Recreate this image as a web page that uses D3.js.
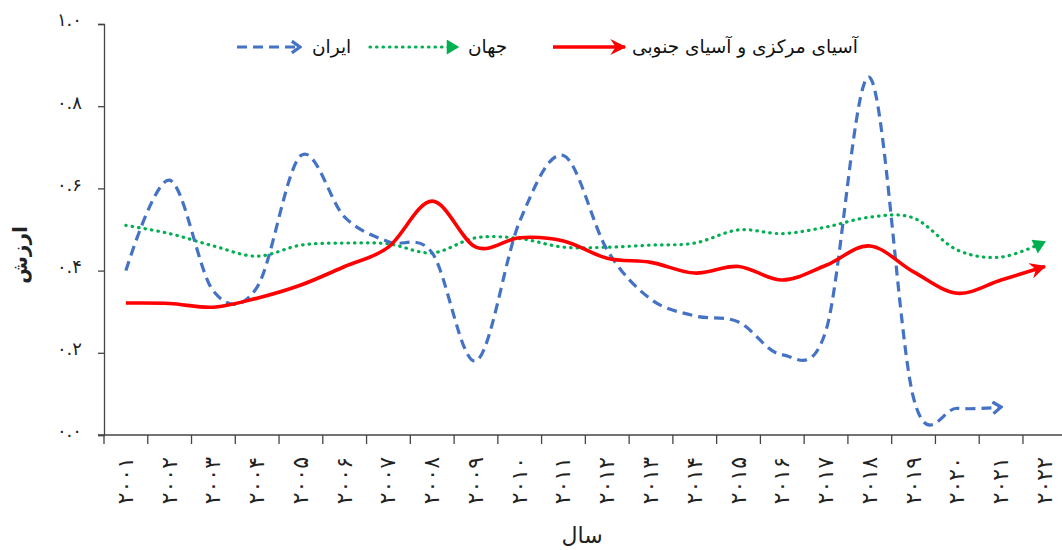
<!DOCTYPE html>
<html>
<head>
<meta charset="utf-8">
<script src="https://cdn.jsdelivr.net/npm/d3@7"></script>
<style>
  body { margin: 0; background: #fff; }
  text { font-family: "DejaVu Sans", "Noto Sans", sans-serif; }
</style>
</head>
<body>
<svg id="graphic-svg" width="1062" height="550"></svg>
<script>
// Data
var years = ["2001","2002","2003","2004","2005","2006","2007","2008","2009","2010","2011",
             "2012","2013","2014","2015","2016","2017","2018","2019","2020","2021","2022"];
var iran  = [0.40, 0.62, 0.35, 0.36, 0.68, 0.53, 0.47, 0.443, 0.18, 0.52, 0.68,
             0.45, 0.33, 0.29, 0.275, 0.195, 0.255, 0.87, 0.09, 0.065, 0.068, null];
var world = [0.51, 0.49, 0.46, 0.435, 0.462, 0.467, 0.465, 0.443, 0.48, 0.478, 0.457,
             0.457, 0.462, 0.467, 0.499, 0.49, 0.506, 0.53, 0.528, 0.45, 0.433, 0.47];
var asia  = [0.321, 0.32, 0.311, 0.333, 0.365, 0.41, 0.457, 0.569, 0.457, 0.48, 0.472,
             0.43, 0.42, 0.394, 0.41, 0.377, 0.413, 0.46, 0.397, 0.345, 0.377, 0.41];
var yTicks = [0, 0.2, 0.4, 0.6, 0.8, 1.0];
var seriesNames = ["ایران", "جهان", "آسیای مرکزی و آسیای جنوبی"];

// Persian digits
function fa(s) {
  return String(s).replace(/[0-9]/g, function(c) { return "۰۱۲۳۴۵۶۷۸۹"[+c]; });
}

var svg = d3.select("#graphic-svg");
var left = 104, band = 43.76;

var xScale = d3.scaleBand()
               .domain(years)
               .range([left, left + band * years.length])
               .padding(0);
var yScale = d3.scaleLinear()
               .domain([0, 1])
               .range([435, 24]);

// Markers (arrow heads)
var defs = svg.append("defs");
defs.append("marker")
    .attr("id", "arrowBlue")
    .attr("markerUnits", "userSpaceOnUse")
    .attr("viewBox", "0 0 12 12")
    .attr("refX", 10).attr("refY", 6)
    .attr("markerWidth", 14).attr("markerHeight", 14)
    .attr("orient", "auto")
    .append("path")
    .attr("d", "M3,1 L10,6 L3,11")
    .style("fill", "none")
    .style("stroke", "#4472C4")
    .style("stroke-width", 2.8);
defs.append("marker")
    .attr("id", "arrowGreen")
    .attr("markerUnits", "userSpaceOnUse")
    .attr("viewBox", "0 0 12 12")
    .attr("refX", 10).attr("refY", 6)
    .attr("markerWidth", 15).attr("markerHeight", 15)
    .attr("orient", "auto")
    .append("path")
    .attr("d", "M1,0 L11,6 L1,12 z")
    .style("fill", "#00B050");
defs.append("marker")
    .attr("id", "arrowRed")
    .attr("markerUnits", "userSpaceOnUse")
    .attr("viewBox", "0 0 12 12")
    .attr("refX", 11).attr("refY", 6)
    .attr("markerWidth", 16).attr("markerHeight", 16)
    .attr("orient", "auto")
    .append("path")
    .attr("d", "M0,0 L12,6 L0,12 L4,6 z")
    .style("fill", "#FF0000");

// Axes
var yAxis = d3.axisLeft(yScale)
              .tickValues(yTicks)
              .tickSize(6)
              .tickFormat(function(d) { return fa(d.toFixed(1)); });
var gy = svg.append("g")
            .attr("transform", "translate(" + left + ",0)")
            .call(yAxis);
gy.select(".domain").attr("stroke", "#444").attr("stroke-width", 1.3);
gy.selectAll(".tick line").attr("stroke", "#444").attr("stroke-width", 1.3);
gy.selectAll(".tick text")
  .attr("x", -22)
  .attr("dy", "0.1em")
  .style("font-size", "18px")
  .style("fill", "#222");

// X axis line and band ticks
svg.append("line")
   .attr("x1", left - 6).attr("x2", 1062)
   .attr("y1", yScale(0)).attr("y2", yScale(0))
   .attr("stroke", "#444").attr("stroke-width", 1.6);
svg.selectAll(".xtick")
   .data(years)
   .enter()
   .append("line")
   .attr("class", "xtick")
   .attr("x1", function(d) { return xScale(d); })
   .attr("x2", function(d) { return xScale(d); })
   .attr("y1", yScale(0))
   .attr("y2", yScale(0) + 9)
   .attr("stroke", "#444").attr("stroke-width", 1.3);
svg.selectAll(".xlabel")
   .data(years)
   .enter()
   .append("text")
   .attr("class", "xlabel")
   .attr("transform", function(d) {
     return "translate(" + (xScale(d) + band / 2 + 7) + "," + 457 + ") rotate(-90)";
   })
   .attr("text-anchor", "end")
   .style("font-size", "22px")
   .style("fill", "#222")
   .text(function(d) { return fa(d); });

// Axis titles
svg.append("text")
   .attr("transform", "translate(27,255) rotate(-90)")
   .attr("text-anchor", "middle")
   .style("font-size", "20px")
   .style("font-weight", "bold")
   .style("fill", "#222")
   .text("ارزش");
svg.append("text")
   .attr("x", 582).attr("y", 543)
   .attr("text-anchor", "middle")
   .style("font-size", "22px")
   .style("fill", "#222")
   .text("سال");

// Lines
var line = d3.line()
             .defined(function(d) { return d != null; })
             .x(function(d, i) { return xScale(years[i]) + band / 2; })
             .y(function(d) { return yScale(d); })
             .curve(d3.curveCardinal.tension(0));

svg.append("path")
   .datum(world)
   .attr("d", line)
   .style("fill", "none")
   .style("stroke", "#00B050")
   .style("stroke-width", 3.2)
   .style("stroke-linecap", "round")
   .style("stroke-dasharray", "0.5,6")
   .attr("marker-end", "url(#arrowGreen)");
svg.append("path")
   .datum(iran)
   .attr("d", line)
   .style("fill", "none")
   .style("stroke", "#4472C4")
   .style("stroke-width", 3.2)
   .style("stroke-dasharray", "10,6")
   .attr("marker-end", "url(#arrowBlue)");
svg.append("path")
   .datum(asia)
   .attr("d", line)
   .style("fill", "none")
   .style("stroke", "#FF0000")
   .style("stroke-width", 3.6)
   .attr("marker-end", "url(#arrowRed)");

// Legend
var legY = 47;
var legend = [
  { x1: 237, x2: 300, tx: 312, color: "#4472C4", dash: "10,6", cap: "butt", w: 3.2, marker: "arrowBlue" },
  { x1: 370, x2: 458, tx: 468, color: "#00B050", dash: "0.5,6", cap: "round", w: 3.2, marker: "arrowGreen" },
  { x1: 553, x2: 625, tx: 632, color: "#FF0000", dash: null, cap: "butt", w: 3.6, marker: "arrowRed" }
];
legend.forEach(function(l, i) {
  svg.append("line")
     .attr("x1", l.x1).attr("x2", l.x2)
     .attr("y1", legY).attr("y2", legY)
     .style("stroke", l.color)
     .style("stroke-width", l.w)
     .style("stroke-linecap", l.cap)
     .style("stroke-dasharray", l.dash)
     .attr("marker-end", "url(#" + l.marker + ")");
  svg.append("text")
     .attr("x", l.tx).attr("y", legY + 6)
     .attr("text-anchor", "start")
     .style("font-size", "18.5px")
     .style("fill", "#111")
     .text(seriesNames[i]);
});
</script>
</body>
</html>
